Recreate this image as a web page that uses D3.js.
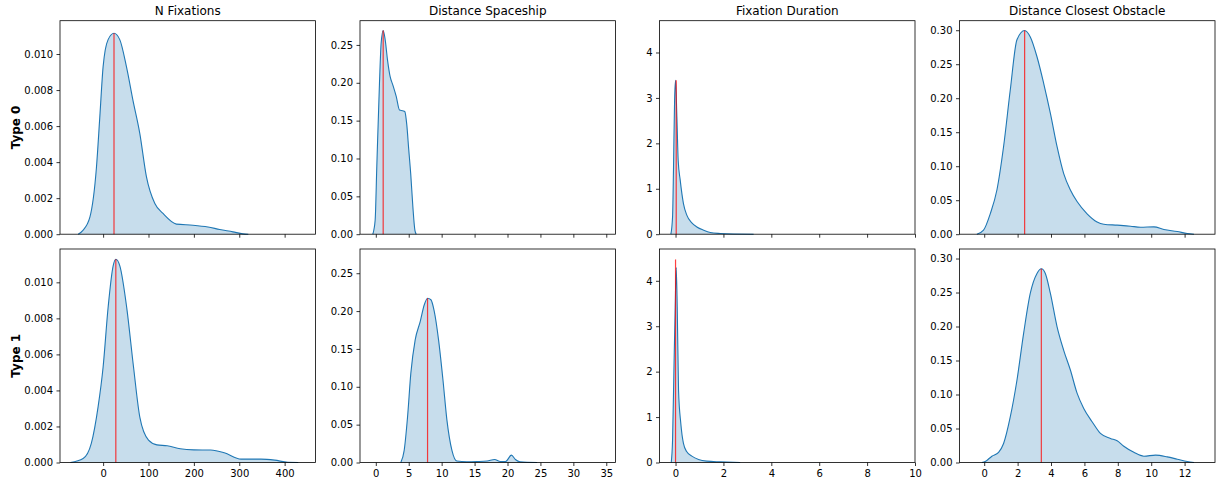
<!DOCTYPE html>
<html><head><meta charset="utf-8">
<script src="https://cdn.jsdelivr.net/npm/d3@7"></script>
<style>body{margin:0;background:#fff}svg{display:block}text{font-family:"DejaVu Sans",sans-serif}</style>
</head><body><svg id="c" width="1217" height="483"></svg>
<script>
const columns = ["N Fixations", "Distance Spaceship", "Fixation Duration", "Distance Closest Obstacle"];
const rowLabels = ["Type 0", "Type 1"];
const xDomains = [[-95, 468], [-2.4, 36.4], [-0.67, 10.0], [-1.48, 13.82]];
const yDomains = [[0, 0.01185], [0, 0.282], [0, 4.70], [0, 0.314]];
const xTicks = [[0,100,200,300,400], [0,5,10,15,20,25,30,35], [0,2,4,6,8,10], [0,2,4,6,8,10,12]];
const yTicks = [[0,0.002,0.004,0.006,0.008,0.010], [0,0.05,0.10,0.15,0.20,0.25], [0,1,2,3,4], [0,0.05,0.10,0.15,0.20,0.25,0.30]];
const yFormats = [".3f", ".2f", "d", ".2f"];

// KDE curves: [x, density]
const nFixT0 = [[-55,0],[-45,0.0002],[-29,0.00096],[-14.7,0.0037],[-7.3,0.0065],[0,0.0093],[11,0.0108],[24,0.01115],[36.7,0.0108],[51.4,0.0093],[66,0.0074],[80.8,0.0056],[95.4,0.0032],[114,0.0017],[132,0.00115],[161.5,0.00056],[198,0.0005],[231,0.0004],[257,0.00026],[286,0.00013],[308,0.00002],[320,0]];
const nFixT1 = [[-72,0],[-44,0.00022],[-26,0.00106],[-11,0.0031],[0,0.0053],[11,0.0086],[22,0.0109],[28,0.01128],[37,0.0109],[52,0.0086],[67,0.0053],[81,0.0025],[100,0.00124],[118.5,0.00098],[141,0.00093],[170,0.00076],[200,0.0007],[237,0.00069],[267,0.00054],[304,0.00019],[348,0.00019],[378,0.00013],[407,0.00001],[430,0]];
const distShipT0 = [[-0.46,0],[-0.1,0.0185],[0.15,0.089],[0.56,0.2],[0.81,0.252],[1.12,0.269],[1.42,0.257],[1.78,0.23],[2.18,0.208],[2.59,0.197],[3.1,0.182],[3.6,0.164],[4.1,0.163],[4.4,0.162],[4.7,0.145],[5.0,0.112],[5.3,0.08],[5.63,0.036],[5.94,0.005],[6.14,0]];
const distShipT1 = [[3.8,0],[4.31,0.016],[4.82,0.06],[5.32,0.118],[5.98,0.162],[6.74,0.186],[7.35,0.208],[7.86,0.217],[8.37,0.215],[8.87,0.2],[9.53,0.162],[10.2,0.109],[10.8,0.056],[11.56,0.016],[12.3,0.002],[13.8,0.001],[15.4,0.0013],[16.9,0.002],[18.05,0.004],[18.9,0.0013],[19.7,0.0013],[20.6,0.0097],[21.2,0.004],[21.9,0.001],[24.5,0]];
const fixDurT0 = [[-0.195,0],[-0.125,0.38],[-0.084,1.48],[-0.04,2.95],[0,3.39],[0.056,2.58],[0.11,1.63],[0.195,1.19],[0.33,0.675],[0.47,0.42],[0.68,0.25],[0.89,0.16],[1.17,0.088],[1.45,0.037],[1.87,0.015],[2.42,0.004],[3.26,0]];
const fixDurT1 = [[-0.18,0],[-0.125,0.49],[-0.07,1.96],[-0.014,3.43],[0.028,4.29],[0.07,3.43],[0.125,1.59],[0.22,0.86],[0.33,0.42],[0.47,0.235],[0.68,0.14],[0.96,0.066],[1.3,0.03],[1.87,0.015],[2.7,0]];
const distObsT0 = [[-0.44,0],[-0.04,0.006],[0.36,0.03],[0.76,0.065],[1.16,0.129],[1.56,0.212],[1.96,0.286],[2.42,0.2995],[2.76,0.29],[3.16,0.261],[3.56,0.222],[3.96,0.178],[4.36,0.129],[4.76,0.089],[5.16,0.065],[5.56,0.048],[6.16,0.03],[6.76,0.018],[7.16,0.0147],[7.96,0.0133],[8.76,0.0118],[9.36,0.0103],[10.16,0.0108],[10.76,0.0069],[11.56,0.0039],[12.16,0.001],[12.56,0]];
const distObsT1 = [[-0.14,0],[0.06,0.0015],[0.46,0.0093],[0.86,0.015],[1.16,0.028],[1.56,0.067],[1.96,0.121],[2.36,0.19],[2.76,0.249],[3.16,0.278],[3.42,0.285],[3.66,0.278],[3.96,0.249],[4.36,0.2],[4.76,0.165],[5.16,0.136],[5.56,0.102],[5.96,0.0795],[6.46,0.06],[6.96,0.0427],[7.56,0.0354],[7.96,0.032],[8.36,0.024],[8.96,0.015],[9.56,0.0093],[10.26,0.0108],[10.96,0.0083],[11.56,0.0049],[12.16,0.0015],[12.56,0]];
const curves = [[nFixT0, distShipT0, fixDurT0, distObsT0], [nFixT1, distShipT1, fixDurT1, distObsT1]];

// red reference lines: [x, top]
const markersT0 = [[24, 0.01115], [1.12, 0.269], [0.028, 3.39], [2.42, 0.2995]];
const markersT1 = [[28, 0.01128], [7.86, 0.217], [0.0, 4.47], [3.42, 0.285]];
const markers = [markersT0, markersT1];

const svg = d3.select("#c");
const lefts = [60, 360, 659.5, 959.5];
const tops = [20.7, 249];
const W = 255.5, H = 213.5;
const blue = "#1f77b4";

columns.forEach((title, c) => {
  const x = d3.scaleLinear().domain(xDomains[c]).range([0, W]);
  const y = d3.scaleLinear().domain(yDomains[c]).range([H, 0]);
  rowLabels.forEach((rl, r) => {
    const g = svg.append("g").attr("transform", `translate(${lefts[c]},${tops[r]})`);
    const data = curves[r][c];
    const area = d3.area().x(d => x(d[0])).y0(y(0)).y1(d => y(d[1])).curve(d3.curveMonotoneX);
    const line = d3.line().x(d => x(d[0])).y(d => y(d[1])).curve(d3.curveMonotoneX);
    g.append("path").attr("d", area(data)).attr("fill", blue).attr("fill-opacity", 0.25);
    g.append("path").attr("d", line(data)).attr("fill", "none").attr("stroke", blue).attr("stroke-width", 1.1);
    const m = markers[r][c];
    g.append("line").attr("x1", x(m[0])).attr("x2", x(m[0])).attr("y1", y(0)).attr("y2", y(m[1]))
      .attr("stroke", "#ff0000").attr("stroke-width", 1.2).attr("stroke-opacity", 0.75);

    const xa = d3.axisBottom(x).tickValues(xTicks[c]).tickSize(3.5).tickPadding(3.5).tickFormat(r === 1 ? d3.format("d") : "");
    const ya = d3.axisLeft(y).tickValues(yTicks[c]).tickSize(3.5).tickPadding(3.5).tickFormat(d3.format(yFormats[c]));
    const gx = g.append("g").attr("transform", `translate(0,${H})`).call(xa);
    const gy = g.append("g").call(ya);
    [gx, gy].forEach(a => {
      a.select(".domain").remove();
      a.selectAll(".tick line").attr("stroke", "#000").attr("stroke-width", 0.8);
      a.selectAll("text").attr("fill", "#000").style("font-size", "10px").style("font-family", "DejaVu Sans");
    });
    g.append("rect").attr("width", W).attr("height", H).attr("fill", "none").attr("stroke", "#000").attr("stroke-width", 0.8);

    if (r === 0) {
      g.append("text").attr("x", W / 2).attr("y", -6).attr("text-anchor", "middle")
        .style("font-size", "12px").attr("fill", "#000").text(title);
    }
    if (c === 0) {
      svg.append("text").attr("transform", `translate(19.5,${tops[r] + H / 2}) rotate(-90)`)
        .attr("text-anchor", "middle").style("font-size", "12px").style("font-weight", "bold")
        .attr("fill", "#000").text(rl);
    }
  });
});
</script></body></html>
